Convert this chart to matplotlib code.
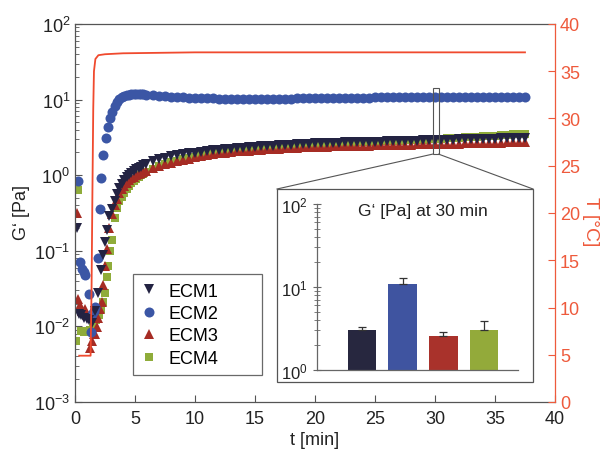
import matplotlib
matplotlib.use("Agg")
import matplotlib.pyplot as plt
from matplotlib.patches import Rectangle
from matplotlib.lines import Line2D
from matplotlib.ticker import LogLocator, NullFormatter, NullLocator

plt.rcParams["font.family"] = ["Liberation Sans", "DejaVu Sans"]
plt.rcParams["mathtext.fontset"] = "custom"
plt.rcParams["mathtext.rm"] = "Liberation Sans"
plt.rcParams["mathtext.it"] = "Liberation Sans:italic"
plt.rcParams["mathtext.bf"] = "Liberation Sans:bold"

# --- gelation data: G' [Pa] vs time [min] ---
# first minutes (sparse, before the gel point)
t1_early = [0.2, 0.3, 0.5, 0.75, 1.0, 1.2, 1.45, 1.7, 1.95, 2.2, 2.35, 2.5, 2.65, 2.85]
g1_early = [0.20, 0.0145, 0.014, 0.013, 0.0125, 0.012, 0.011, 0.016, 0.028, 0.055, 0.087, 0.13, 0.19, 0.29]

t2_early = [0.25, 0.45, 0.6, 0.72, 0.85, 1.2, 1.32, 1.45, 1.55, 1.65, 1.95, 2.05, 2.2, 2.36, 2.6, 2.78, 2.95]
g2_early = [0.85, 0.071, 0.058, 0.052, 0.048, 0.027, 0.0085, 0.0145, 0.016, 0.018, 0.081, 0.36, 0.93, 1.85, 3.1, 4.3, 5.7]

t3_early = [0.15, 0.25, 0.45, 0.6, 0.8, 1.0, 1.25, 1.4, 1.55, 1.67, 1.8, 1.94, 2.08, 2.22, 2.36, 2.5, 2.65, 2.85]
g3_early = [0.32, 0.023, 0.019, 0.016, 0.017, 0.014, 0.0052, 0.0065, 0.0079, 0.0079, 0.0097, 0.013, 0.017, 0.021, 0.035, 0.063, 0.105, 0.2]

t4_early = [0.1, 0.25, 0.5, 0.75, 1.0, 1.25, 1.5, 1.75, 2.0, 2.2, 2.36, 2.5, 2.64, 2.78, 2.95]
g4_early = [0.0065, 0.64, 0.0087, 0.0084, 0.0087, 0.009, 0.0095, 0.012, 0.014, 0.017, 0.021, 0.028, 0.045, 0.063, 0.1]

# common time base after gelation
t_band = [3.1, 3.3, 3.5, 3.7, 3.9, 4.1, 4.3, 4.5, 4.7, 4.9, 5.1, 5.3, 5.5, 5.7, 5.9,
          6.5, 7.0, 7.5, 8.0, 8.5, 9.0, 9.5, 10.0, 10.5, 11.0, 11.5, 12.0, 12.5, 13.0,
          13.5, 14.0, 14.5, 15.0, 15.5, 16.0, 16.5, 17.0, 17.5, 18.0, 18.5, 19.0, 19.5,
          20.0, 20.5, 21.0, 21.5, 22.0, 22.5, 23.0, 23.5, 24.0, 24.5, 25.0, 25.5, 26.0,
          26.5, 27.0, 27.5, 28.0, 28.5, 29.0, 29.5, 30.0, 30.5, 31.0, 31.5, 32.0, 32.5,
          33.0, 33.5, 34.0, 34.5, 35.0, 35.5, 36.0, 36.5, 37.0, 37.5]

g1_band = [0.36, 0.45, 0.56, 0.67, 0.77, 0.86, 0.94, 1.01, 1.07, 1.13, 1.19, 1.24, 1.29, 1.35, 1.40,
           1.52, 1.62, 1.70, 1.77, 1.84, 1.89, 1.94, 1.99, 2.04, 2.09, 2.14, 2.18, 2.22, 2.25,
           2.28, 2.32, 2.35, 2.37, 2.40, 2.43, 2.45, 2.48, 2.51, 2.54, 2.57, 2.60, 2.62,
           2.64, 2.65, 2.67, 2.68, 2.69, 2.71, 2.72, 2.73, 2.75, 2.76, 2.77, 2.78, 2.80,
           2.81, 2.83, 2.84, 2.86, 2.87, 2.89, 2.90, 2.92, 2.93, 2.94, 2.96, 2.97, 2.98,
           3.00, 3.01, 3.02, 3.04, 3.05, 3.07, 3.08, 3.10, 3.11, 3.12]

g2_band = [6.8, 8.2, 9.3, 10.1, 10.7, 11.1, 11.4, 11.6, 11.7, 11.8, 11.8, 11.8, 11.7, 11.7, 11.6,
           11.4, 11.2, 11.0, 10.9, 10.8, 10.7, 10.6, 10.5, 10.5, 10.4, 10.4, 10.3, 10.3, 10.3,
           10.3, 10.3, 10.3, 10.3, 10.3, 10.3, 10.3, 10.3, 10.3, 10.3, 10.4, 10.4, 10.4,
           10.4, 10.4, 10.5, 10.5, 10.5, 10.5, 10.6, 10.6, 10.6, 10.6, 10.7, 10.7, 10.7,
           10.7, 10.8, 10.8, 10.8, 10.8, 10.9, 10.9, 10.9, 10.9, 10.9, 10.9, 10.9, 10.9,
           10.9, 10.9, 10.9, 10.9, 10.9, 10.9, 10.9, 10.9, 10.9, 10.9]

g3_band = [0.31, 0.40, 0.49, 0.58, 0.66, 0.73, 0.80, 0.86, 0.91, 0.96, 1.00, 1.04, 1.08, 1.11, 1.14,
           1.25, 1.33, 1.40, 1.47, 1.54, 1.60, 1.66, 1.72, 1.78, 1.84, 1.90, 1.95, 1.99, 2.02,
           2.06, 2.09, 2.12, 2.15, 2.17, 2.20, 2.23, 2.25, 2.27, 2.29, 2.31, 2.33, 2.35,
           2.36, 2.37, 2.39, 2.40, 2.41, 2.43, 2.44, 2.45, 2.46, 2.47, 2.48, 2.49, 2.50,
           2.51, 2.52, 2.53, 2.54, 2.55, 2.56, 2.57, 2.58, 2.59, 2.60, 2.61, 2.62, 2.63,
           2.64, 2.65, 2.66, 2.67, 2.69, 2.70, 2.71, 2.72, 2.74, 2.75]

g4_band = [0.14, 0.27, 0.37, 0.45, 0.52, 0.59, 0.65, 0.72, 0.78, 0.84, 0.90, 0.95, 1.00, 1.05, 1.09,
           1.22, 1.33, 1.41, 1.48, 1.55, 1.62, 1.69, 1.76, 1.83, 1.91, 1.97, 2.02, 2.06, 2.11,
           2.15, 2.20, 2.24, 2.27, 2.31, 2.34, 2.38, 2.41, 2.44, 2.47, 2.49, 2.52, 2.55,
           2.57, 2.59, 2.61, 2.63, 2.65, 2.67, 2.70, 2.72, 2.74, 2.77, 2.79, 2.81, 2.83,
           2.85, 2.87, 2.89, 2.91, 2.93, 2.95, 2.97, 3.00, 3.03, 3.07, 3.10, 3.14, 3.17,
           3.20, 3.24, 3.27, 3.30, 3.34, 3.38, 3.42, 3.46, 3.50, 3.55]

# temperature ramp [°C]
t_temp = [0.35, 1.3, 1.38, 1.45, 1.52, 1.58, 1.7, 1.95, 2.5, 4.0, 10.0, 20.0, 30.0, 37.5]
temp = [4.9, 4.9, 12.0, 22.0, 31.0, 35.0, 36.3, 36.7, 36.8, 36.9, 37.0, 37.0, 37.0, 37.0]

# G' at 30 min (inset)
samples = ["ECM1", "ECM2", "ECM3", "ECM4"]
g30 = [3.0, 10.9, 2.6, 3.0]
g30_err = [0.3, 1.9, 0.3, 0.9]

c_ecm = ["#232342", "#3b56a5", "#a62c24", "#8fac3a"]
c_bar = ["#27273f", "#3f54a0", "#a9322b", "#93aa3a"]
c_temp = "#f04a2e"
c_axis_r = "#ee5a3c"
c_frame = "#555555"

W, H = 609, 452
fig = plt.figure(figsize=(W / 100, H / 100), dpi=100)
ax = fig.add_axes([75 / W, 1 - 403 / H, 480 / W, 378 / H])

series = [
    ("ECM4", t4_early + t_band, g4_early + g4_band, "s", 5.4, c_ecm[3]),
    ("ECM3", t3_early + t_band, g3_early + g3_band, "^", 7.6, c_ecm[2]),
    ("ECM2", t2_early + t_band, g2_early + g2_band, "o", 7.2, c_ecm[1]),
    ("ECM1", t1_early + t_band, g1_early + g1_band, "v", 7.6, c_ecm[0]),
]
handles = {}
for name, tt, gg, mk, ms, col in series:
    h, = ax.plot(tt, gg, ls="none", marker=mk, ms=ms, mfc=col, mec=col, mew=0, label=name)
    handles[name] = h

ax.set_yscale("log")
ax.set_xlim(0, 40)
ax.set_ylim(1e-3, 1e2)
ax.set_xticks(range(0, 41, 5))
ax.xaxis.set_minor_locator(NullLocator())
ax.yaxis.set_major_locator(LogLocator(base=10, numticks=10))
ax.yaxis.set_minor_locator(LogLocator(base=10, subs=range(2, 10), numticks=10))
ax.yaxis.set_minor_formatter(NullFormatter())
ax.tick_params(which="both", direction="in", top=False, right=False, labelsize=13,
               color=c_frame, labelcolor="#222222")
ax.tick_params(which="major", length=5, width=0.8)
ax.tick_params(which="minor", length=3, width=0.6)
ax.tick_params(axis="x", pad=6)
for s in ["left", "bottom", "top"]:
    ax.spines[s].set_color(c_frame)
    ax.spines[s].set_linewidth(0.9)
ax.spines["right"].set_visible(False)

# temperature on the right axis
ax2 = ax.twinx()
ax2.plot(t_temp, temp, color=c_temp, lw=1.3)
ax2.set_ylim(0, 40)
ax2.set_yticks(range(0, 41, 5))
ax2.tick_params(direction="in", length=5, width=0.8, color=c_axis_r, labelcolor=c_axis_r, labelsize=13)
for s in ["left", "bottom", "top"]:
    ax2.spines[s].set_visible(False)
ax2.spines["right"].set_color(c_axis_r)
ax2.spines["right"].set_linewidth(0.9)

fig.text(22 / W, 1 - 213 / H, "G\u2018 [Pa]", rotation=90, ha="center", va="center", fontsize=13, color="#222222")
fig.text(315 / W, 1 - 441 / H, "t [min]", ha="center", va="center", fontsize=13, color="#222222")
fig.text(590 / W, 1 - 222 / H, "T [°C]", rotation=270, ha="center", va="center", fontsize=14, color=c_axis_r)

leg = ax.legend([handles[n] for n in samples], samples, loc="upper left",
                bbox_to_anchor=(133 / W, 1 - 280 / H, 129 / W, 0.01), bbox_transform=fig.transFigure,
                mode="expand", borderaxespad=0, fontsize=13, frameon=True, fancybox=False,
                edgecolor="#444444", handlelength=0.9, handletextpad=0.6, borderpad=0.45,
                labelspacing=0.3)
leg.get_frame().set_linewidth(0.9)

# zoom marker at 30 min and the box it opens into
x0, x1, y0, y1 = 29.8, 30.3, 1.9, 14.2
ax.add_patch(Rectangle((x0, y0), x1 - x0, y1 - y0, fill=False, ec=c_frame, lw=0.8, zorder=5))

bx0, bx1, by0, by1 = 277 / W, 533 / W, 1 - 383 / H, 1 - 190 / H
fig.add_artist(Rectangle((bx0, by0), bx1 - bx0, by1 - by0, transform=fig.transFigure,
                         fc="white", ec=c_frame, lw=0.9, zorder=2))
to_fig = fig.transFigure.inverted()
pl = to_fig.transform(ax.transData.transform((x0, y0)))
pr = to_fig.transform(ax.transData.transform((x1, y0)))
fig.add_artist(Line2D([pl[0], bx0], [pl[1], by1], transform=fig.transFigure, color=c_frame, lw=0.8, zorder=2))
fig.add_artist(Line2D([pr[0], bx1], [pr[1], by1], transform=fig.transFigure, color=c_frame, lw=0.8, zorder=2))

ins = fig.add_axes([317 / W, 1 - 371 / H, 201 / W, 166 / H])
ins.set_zorder(3)
ins.patch.set_alpha(0)
pos = range(len(samples))
ins.bar(pos, g30, width=0.7, color=c_bar, yerr=[[0] * 4, g30_err],
        error_kw=dict(ecolor="#333333", elinewidth=0.9, capsize=3, capthick=0.9))
ins.set_yscale("log")
ins.set_ylim(1, 100)
ins.set_xlim(-1.1, 3.83)
ins.set_xticks([])
ins.yaxis.set_major_locator(LogLocator(base=10, numticks=5))
ins.yaxis.set_minor_locator(LogLocator(base=10, subs=range(2, 10), numticks=5))
ins.yaxis.set_minor_formatter(NullFormatter())
ins.tick_params(which="both", direction="inout", color="#666666", labelsize=12, labelcolor="#222222")
ins.tick_params(which="major", length=6, width=0.8)
ins.tick_params(which="minor", length=4, width=0.6)
for s in ["top", "right"]:
    ins.spines[s].set_visible(False)
for s in ["left", "bottom"]:
    ins.spines[s].set_color("#666666")
    ins.spines[s].set_linewidth(0.9)
ins.text(0.527, 0.958, "G\u2018 [Pa] at 30 min", transform=ins.transAxes, ha="center", va="center",
         fontsize=12.5, color="#222222")

fig.savefig("out.png", dpi=100)
